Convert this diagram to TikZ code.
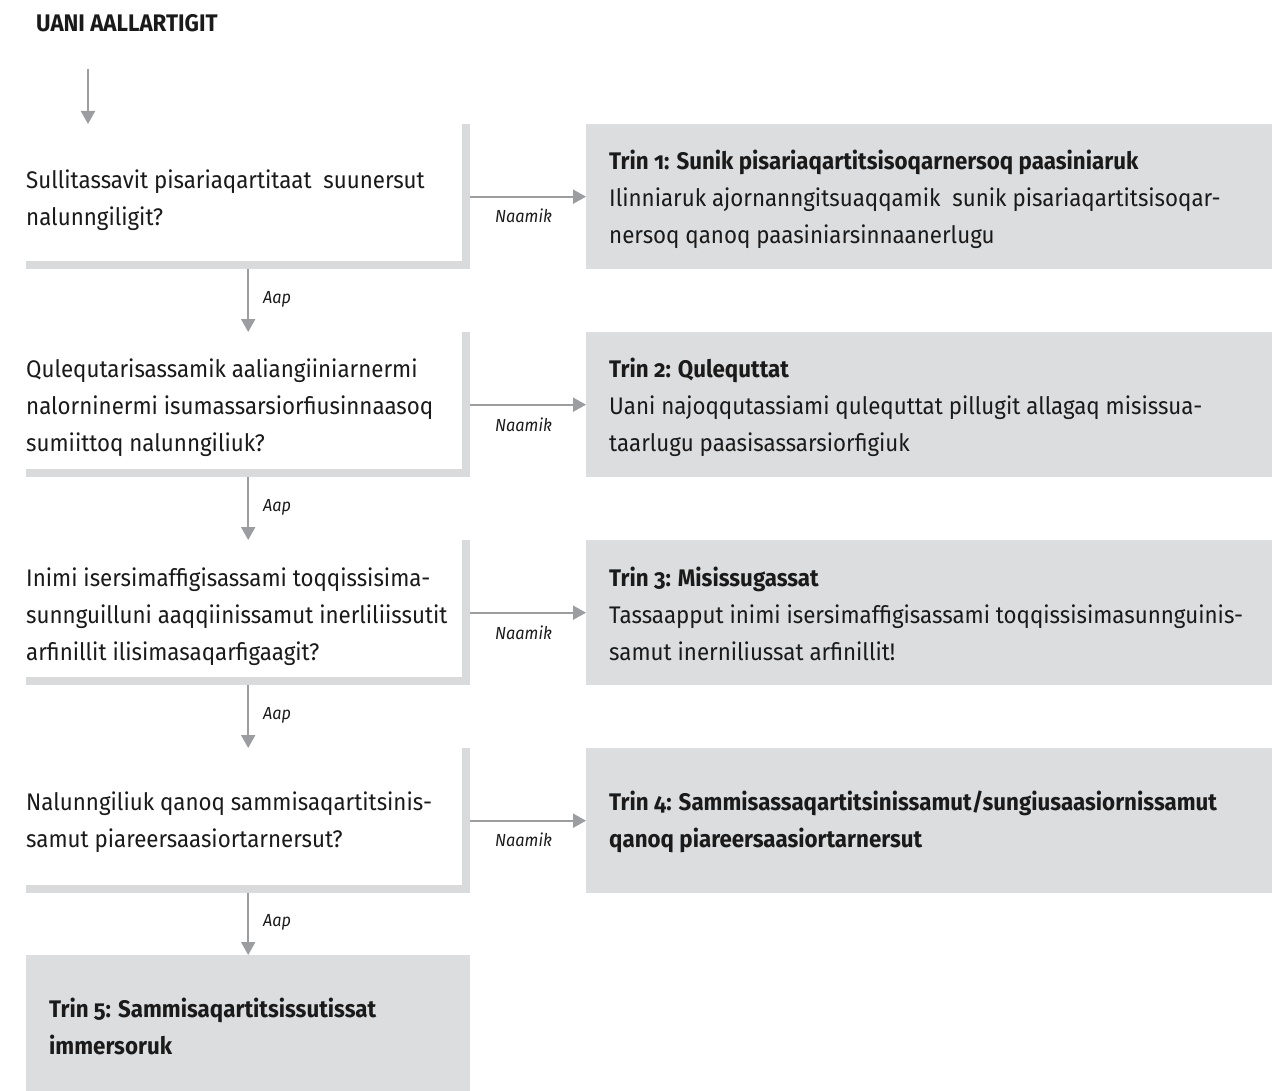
\documentclass[tikz,border=0pt]{standalone}
\usepackage{fontspec}
\setmainfont[Numbers=OldStyle,FakeStretch=0.93]{Fira Sans}
\usetikzlibrary{arrows.meta}
\definecolor{boxgray}{HTML}{DCDDDF}
\definecolor{bargray}{HTML}{D9DADC}
\definecolor{arrgray}{HTML}{9C9DA0}
\definecolor{ink}{HTML}{1A1A1A}
\newcommand\bodyfont{\fontsize{24}{37}\selectfont}
\newcommand\lines[1]{\begin{tabular}[t]{@{}l@{}}#1\end{tabular}}
\tikzset{
  qbox/.style={rectangle, fill=bargray, anchor=north west, inner sep=0pt,
    minimum width=444pt, minimum height=145pt,
    path picture={\fill[white] (path picture bounding box.north west) rectangle ([xshift=-8.5pt,yshift=8pt]path picture bounding box.south east);}},
  gbox/.style={rectangle, fill=boxgray, anchor=north west, inner sep=0pt,
    minimum width=686pt, minimum height=145pt},
  txt/.style={anchor=base west, inner sep=0pt, font=\bodyfont, text=ink},
  lbl/.style={anchor=base west, inner sep=0pt, font=\fontsize{17.5}{20}\selectfont\itshape, text=ink},
  arr/.style={draw=arrgray, line width=2pt, -{Triangle[length=13pt,width=14pt]}, shorten >=0pt},
}
\begin{document}
\begin{tikzpicture}[x=1pt,y=-1pt]
\useasboundingbox (0,0) rectangle (1281,1091);
\node[anchor=base west, inner sep=0pt, font=\fontsize{24}{28}\selectfont\bfseries, text=ink] (title) at (36,32) {UANI AALLARTIGIT};
\coordinate (start) at (88,69);
% question boxes
\node[qbox] (q1) at (26,124) {};
\node[qbox] (q2) at (26,332) {};
\node[qbox] (q3) at (26,540) {};
\node[qbox] (q4) at (26,748) {};
\node[gbox, minimum width=444pt, minimum height=136pt] (q5) at (26,955) {};
% result boxes
\node[gbox] (g1) at (586,124) {};
\node[gbox] (g2) at (586,332) {};
\node[gbox] (g3) at (586,540) {};
\node[gbox] (g4) at (586,748) {};
% texts
\node[txt] (t1) at (26,188.5) {\lines{Sullitassavit pisariaqartitaat\ \ suunersut\\nalunngiligit?}};
\node[txt] (t2) at (26,377.5) {\lines{Qulequtarisassamik aaliangiiniarnermi\\nalorninermi isumassarsiorfiusinnaasoq\\sumiittoq nalunngiliuk?}};
\node[txt] (t3) at (26,586) {\lines{Inimi isersimaffigisassami toqqissisima-\\sunnguilluni aaqqiinissamut inerliliissutit\\arfinillit ilisimasaqarfigaagit?}};
\node[txt] (t4) at (26,810.5) {\lines{Nalunngiliuk qanoq sammisaqartitsinis-\\samut piareersaasiortarnersut?}};
\node[txt, font=\bodyfont\bfseries] (t5) at (49,1017.5) {\lines{Trin 5: Sammisaqartitsissutissat\\immersoruk}};
\node[txt] (s1) at (609,169.5) {\lines{\textbf{Trin 1: Sunik pisariaqartitsisoqarnersoq paasiniaruk}\\Ilinniaruk ajornanngitsuaqqamik\ \ sunik pisariaqartitsisoqar-\\nersoq qanoq paasiniarsinnaanerlugu}};
\node[txt] (s2) at (609,377.5) {\lines{\textbf{Trin 2: Qulequttat}\\Uani najoqqutassiami qulequttat pillugit allagaq misissua-\\taarlugu paasisassarsiorfigiuk}};
\node[txt] (s3) at (609,586) {\lines{\textbf{Trin 3: Misissugassat}\\Tassaapput inimi isersimaffigisassami toqqissisimasunnguinis-\\samut inerniliussat arfinillit!}};
\node[txt, font=\bodyfont\bfseries] (s4) at (609,810.5) {\lines{Trin 4: Sammisassaqartitsinissamut/sungiusaasiornissamut\\qanoq piareersaasiortarnersut}};
% labels
\node[lbl] (a1) at (263,303) {Aap};
\node[lbl] (a2) at (263,511) {Aap};
\node[lbl] (a3) at (263,719) {Aap};
\node[lbl] (a4) at (263,926) {Aap};
\node[lbl] (n1) at (495,223) {Naamik};
\node[lbl] (n2) at (495,431) {Naamik};
\node[lbl] (n3) at (495,639) {Naamik};
\node[lbl] (n4) at (495,846) {Naamik};
% connectors
\draw[arr] (start) -- (start |- q1.north);
\draw[arr] (q1.south) -- (q2.north);
\draw[arr] (q2.south) -- (q3.north);
\draw[arr] (q3.south) -- (q4.north);
\draw[arr] (q4.south) -- (q5.north);
\draw[arr] (q1.east) -- (g1.west);
\draw[arr] (q2.east) -- (g2.west);
\draw[arr] (q3.east) -- (g3.west);
\draw[arr] (q4.east) -- (g4.west);
\end{tikzpicture}
\end{document}
